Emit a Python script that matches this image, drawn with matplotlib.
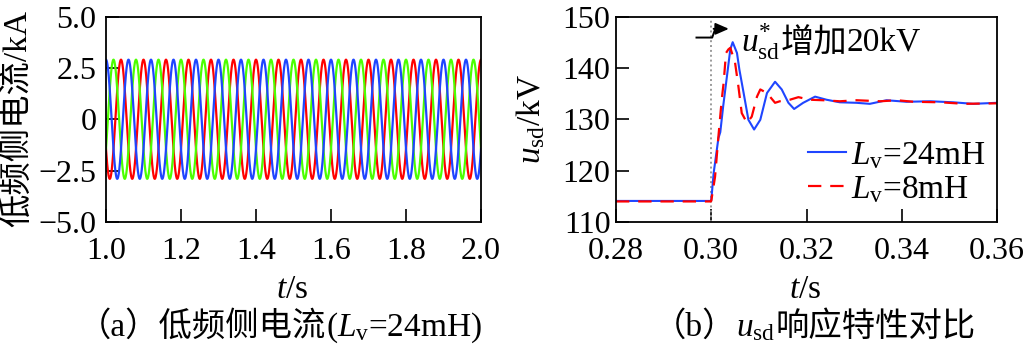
import numpy as np
import matplotlib
matplotlib.use("Agg")
import matplotlib.pyplot as plt
from matplotlib.lines import Line2D
from matplotlib.transforms import IdentityTransform

plt.rcParams['font.family'] = ['Liberation Serif', 'Noto Sans CJK SC']
plt.rcParams['mathtext.fontset'] = 'custom'
plt.rcParams['mathtext.rm'] = 'Liberation Serif'
plt.rcParams['mathtext.it'] = 'Liberation Serif:italic'
plt.rcParams['mathtext.bf'] = 'Liberation Serif:bold'
plt.rcParams['axes.unicode_minus'] = True

# ---------------- (a) low-frequency-side three-phase current ----------------
t_start, t_end = 1.0, 2.0
freq_hz = 50.0 / 3.0            # low-frequency side
amplitude_ka = 2.9
# time of first peak of each phase (blue leads, then green, then red)
phase_peak_s = {'blue': 1.000, 'green': 1.020, 'red': 1.040}
phase_colors = {'red': '#ff0000', 'green': '#4cff00', 'blue': '#1f45ff'}

a_xticks = [1.0, 1.2, 1.4, 1.6, 1.8, 2.0]
a_xticklabels = ['1.0', '1.2', '1.4', '1.6', '1.8', '2.0']
a_yticks = [-5.0, -2.5, 0.0, 2.5, 5.0]
a_yticklabels = ['\u22125.0', '\u22122.5', '0', '2.5', '5.0']

# ---------------- (b) u_sd step response ----------------
t_24 = [0.2800, 0.2999, 0.3000, 0.3005, 0.3015, 0.3019, 0.3025, 0.3033, 0.3040,
        0.3045, 0.3054, 0.3059, 0.3068, 0.3078, 0.3090, 0.3103, 0.3117, 0.3134,
        0.3148, 0.3162, 0.3174, 0.3193, 0.3218, 0.3242, 0.3270, 0.3305, 0.3333,
        0.3368, 0.3410, 0.3460, 0.3508, 0.3550, 0.3600]
u_24 = [114.1, 114.1, 114.2, 119.5, 126.3, 127.5, 132.5, 138.4, 143.6,
        145.0, 142.9, 139.7, 135.1, 129.9, 128.0, 129.9, 135.1, 137.3,
        135.8, 133.2, 132.0, 133.2, 134.4, 133.8, 133.3, 133.2, 133.0,
        133.7, 133.4, 133.5, 133.3, 133.0, 133.2]

t_8 = [0.2800, 0.2999, 0.3000, 0.3008, 0.3015, 0.3022, 0.3026, 0.3031, 0.3036,
       0.3040, 0.3050, 0.3057, 0.3064, 0.3075, 0.3085, 0.3096, 0.3103, 0.3117,
       0.3134, 0.3144, 0.3165, 0.3183, 0.3207, 0.3235, 0.3270, 0.3305, 0.3355,
       0.3390, 0.3425, 0.3482, 0.3531, 0.3600]
u_8 = [114.0, 114.0, 114.1, 118.8, 126.6, 133.8, 137.1, 142.9, 143.6,
       143.9, 141.0, 136.4, 131.2, 129.3, 130.5, 134.4, 135.8, 135.1,
       133.2, 133.5, 133.8, 134.3, 133.8, 133.7, 133.5, 133.7, 133.5,
       133.7, 133.4, 133.3, 133.0, 133.1]

step_time = 0.30
b_xticks = [0.28, 0.30, 0.32, 0.34, 0.36]
b_xticklabels = ['0.28', '0.30', '0.32', '0.34', '0.36']
b_yticks = [110, 120, 130, 140, 150]
b_yticklabels = ['110', '120', '130', '140', '150']

label_24 = r'$L_{\rm v}$=24mH'
label_8 = r'$L_{\rm v}$=8mH'

W, H = 1028, 347
fig = plt.figure(figsize=(W / 100, H / 100), dpi=100)
renderer = fig.canvas.get_renderer()


def fx(px):
    return px / W


def fy(py):
    return 1 - py / H


def text_row(x_px, baseline_px, parts, fontsize, align='center'):
    """Lay out a row of text pieces (CJK / serif / math) side by side."""
    items = []
    widths = []
    for s in parts:
        t = fig.text(0, 0, s, fontsize=fontsize, ha='left', va='baseline',
                     transform=IdentityTransform())
        widths.append(t.get_window_extent(renderer).width)
        items.append(t)
    total = sum(widths)
    x0 = x_px - total / 2 if align == 'center' else x_px
    for t, w in zip(items, widths):
        t.set_position((x0, H - baseline_px))
        x0 += w


top_px, bot_px = 16.5, 222
ax_a = fig.add_axes([fx(106), fy(bot_px), fx(481 - 106), (bot_px - top_px) / H])
ax_b = fig.add_axes([fx(616), fy(bot_px), fx(997 - 616), (bot_px - top_px) / H])

TICK_FS = 23
LABEL_FS = 24

for ax in (ax_a, ax_b):
    for s in ax.spines.values():
        s.set_linewidth(1.3)
        s.set_color('black')
    ax.tick_params(direction='in', length=9.5, width=1.2, labelsize=TICK_FS,
                   top=False, right=False)

# (a) curves
t = np.arange(t_start, t_end + 1e-9, 0.0005)
w = 2 * np.pi * freq_hz
for name in ['red', 'green', 'blue']:
    ax_a.plot(t, amplitude_ka * np.cos(w * (t - phase_peak_s[name])),
              color=phase_colors[name], lw=1.6)
ax_a.set_xlim(t_start, t_end)
ax_a.set_ylim(-5.0, 5.0)
ax_a.set_xticks(a_xticks)
ax_a.set_xticklabels(a_xticklabels)
ax_a.set_yticks(a_yticks)
ax_a.set_yticklabels(a_yticklabels)
ax_a.tick_params(axis='x', pad=11)
ax_a.tick_params(axis='y', pad=7)

# (b) curves
ax_b.axvline(step_time, ymin=0, ymax=0.985, color='#9a9a9a', ls=(0, (1, 1.5)), lw=1.4)
ax_b.plot(t_24, u_24, color='#1f45ff', lw=1.5)
ax_b.plot(t_8, u_8, color='#ff0000', lw=1.6, dashes=(6, 4))
ax_b.set_xlim(0.28, 0.36)
ax_b.set_ylim(110, 150)
ax_b.set_xticks(b_xticks)
ax_b.set_xticklabels(b_xticklabels)
ax_b.set_yticks(b_yticks)
ax_b.set_yticklabels(b_yticklabels)
ax_b.tick_params(axis='x', pad=11)
ax_b.tick_params(axis='y', pad=4)

# step marker
ax_b.plot([0.2969, 0.3002, 0.3008], [145.9, 145.9, 147.5], color='black', lw=1.4)
ax_b.annotate('', xy=(0.3037, 147.6), xytext=(0.3005, 147.6),
              arrowprops=dict(arrowstyle='-|>,head_length=0.8,head_width=0.35',
                              color='black', lw=1.4, shrinkA=0, shrinkB=0))
text_row(741, 52, [r'$u^{*}_{\rm sd}$', '增加', '20kV'], LABEL_FS, align='left')

handles = [Line2D([], [], color='#1f45ff', lw=1.5),
           Line2D([], [], color='#ff0000', lw=1.6, dashes=(6, 4))]
ax_b.legend(handles, [label_24, label_8], loc='upper left',
            bbox_to_anchor=((808 - 616) / 381, 1 - (140 - top_px) / (bot_px - top_px)),
            frameon=False, fontsize=LABEL_FS, handlelength=1.15, handletextpad=0.15,
            borderpad=0, borderaxespad=0, labelspacing=0.1)

# axis titles and captions
fig.text(fx(17), fy(118.5), '低频侧电流/kA', rotation=90, ha='center', va='center',
         fontsize=LABEL_FS)
fig.text(fx(531), fy(119), r'$u_{\rm sd}$/kV', rotation=90, ha='center', va='center',
         fontsize=LABEL_FS)
text_row(292, 298, [r'$t$/s'], LABEL_FS)
text_row(805, 298, [r'$t$/s'], LABEL_FS)
text_row(280, 336, ['（a）低频侧电流', r'($L_{\rm v}$=24mH)'], LABEL_FS)
text_row(814, 336, ['（b）', r'$u_{\rm sd}$', '响应特性对比'], LABEL_FS)

fig.savefig('out.png', dpi=100, facecolor='white')
